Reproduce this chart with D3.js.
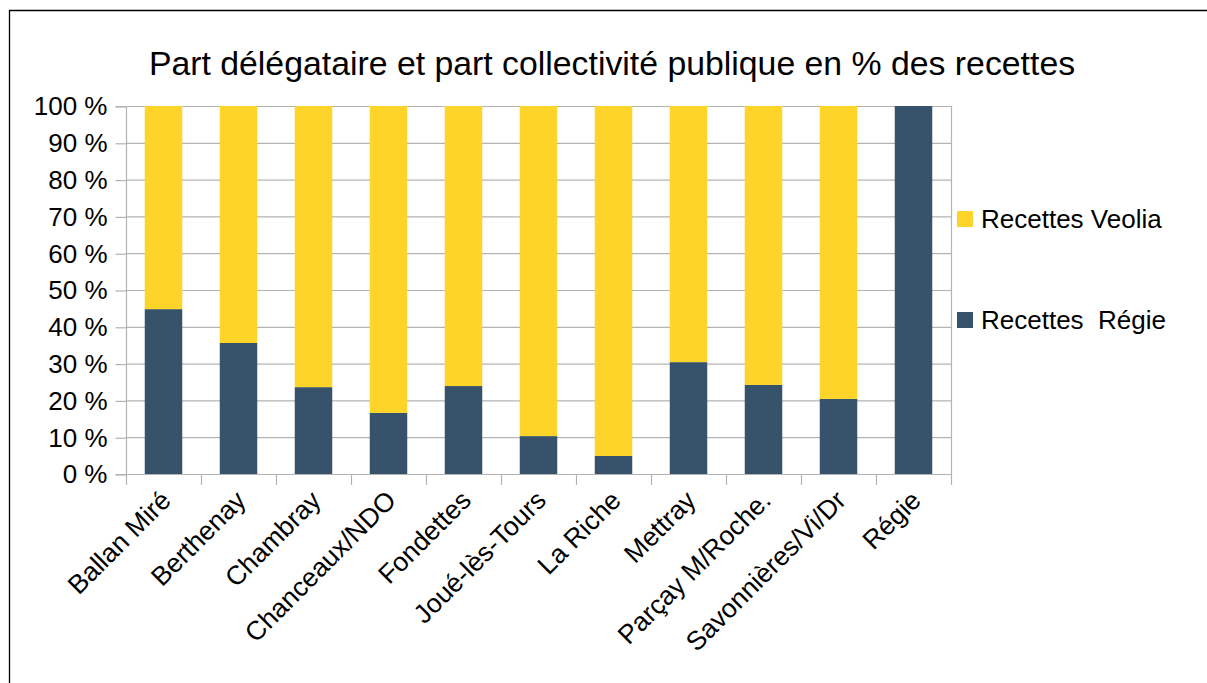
<!DOCTYPE html>
<html><head><meta charset="utf-8">
<script src="https://cdn.jsdelivr.net/npm/d3@7"></script>
<style>html,body{margin:0;padding:0;background:#fff}svg{display:block}text{font-family:"Liberation Sans",Arial,sans-serif;fill:#000}</style>
</head><body>
<svg id="c" width="1207" height="683"></svg>
<script>
const categories = ["Ballan Miré","Berthenay","Chambray","Chanceaux/NDO","Fondettes","Joué-lès-Tours","La Riche","Mettray","Parçay M/Roche.","Savonnières/Vi/Dr","Régie"];
const regie = [44.8, 35.6, 23.6, 16.6, 23.9, 10.3, 4.9, 30.4, 24.2, 20.4, 100];
const veolia = regie.map(v => 100 - v);
const seriesNames = ["Recettes  Régie", "Recettes Veolia"];
const yTicks = [0,10,20,30,40,50,60,70,80,90,100];
const title = "Part délégataire et part collectivité publique en % des recettes";

const colors = {regie:"#36536b", veolia:"#fdd427"};
const svg = d3.select("#c");
const L=126, R=951, T=106, B=474;

// outer border
svg.append("path").attr("d","M9.5,683 V10.5 H1207").attr("fill","none").attr("stroke","#000").attr("stroke-width",1.3);

const x = d3.scaleBand().domain(categories).range([L,R]).paddingInner(0.5).paddingOuter(0.25);
const y = d3.scaleLinear().domain([0,100]).range([B,T]);

// gridlines
svg.append("g").selectAll("line").data(yTicks).join("line")
  .attr("x1",L).attr("x2",R).attr("y1",d=>y(d)+0.5).attr("y2",d=>y(d)+0.5)
  .attr("stroke","#b3b3b3").attr("stroke-width",1.2);
// right border of plot
svg.append("line").attr("x1",R+0.5).attr("x2",R+0.5).attr("y1",T).attr("y2",B).attr("stroke","#b3b3b3").attr("stroke-width",1.2);

// bars
const data = categories.map((c,i)=>({c, regie:regie[i], veolia:veolia[i]}));
const stack = d3.stack().keys(["regie","veolia"])(data);
svg.append("g").selectAll("g").data(stack).join("g").attr("fill",d=>colors[d.key])
  .selectAll("rect").data(d=>d).join("rect")
  .attr("x",d=>x(d.data.c)).attr("width",x.bandwidth())
  .attr("y",d=>y(d[1])).attr("height",d=>y(d[0])-y(d[1]));

// y axis
const yAxis = d3.axisLeft(y).tickValues(yTicks).tickFormat(d=>d+" %").tickSize(11).tickPadding(8);
const ga = svg.append("g").attr("transform",`translate(${L+0.5},0.5)`).call(yAxis);
ga.select(".domain").attr("stroke","#b3b3b3").attr("stroke-width",1.2).attr("d",`M-11,${T}H0V${B}H-11`);
ga.selectAll(".tick line").attr("stroke","#b3b3b3").attr("stroke-width",1.2);
ga.selectAll(".tick text").attr("font-size",26).attr("fill","#000").attr("font-family","Liberation Sans");

// x axis line and ticks at category boundaries
const bounds = d3.range(categories.length+1).map(i=>L + i*x.step());
svg.append("line").attr("x1",L).attr("x2",R+1).attr("y1",B+0.5).attr("y2",B+0.5).attr("stroke","#b3b3b3").attr("stroke-width",1.2);
svg.append("g").selectAll("line").data(bounds).join("line")
  .attr("x1",d=>d+0.5).attr("x2",d=>d+0.5).attr("y1",B).attr("y2",B+11)
  .attr("stroke","#b3b3b3").attr("stroke-width",1.2);

// x labels
svg.append("g").selectAll("text").data(categories).join("text")
  .attr("transform",d=>`translate(${x(d)+x.bandwidth()/2+9},${B+28}) rotate(-45)`)
  .attr("text-anchor","end").attr("font-size",26.5).text(d=>d);

// title
svg.append("text").attr("x",612).attr("y",75).attr("text-anchor","middle").attr("font-size",33.8).text(title);

// legend
const leg = [{n:seriesNames[1],c:colors.veolia,y:219},{n:seriesNames[0],c:colors.regie,y:320}];
const lg = svg.append("g").selectAll("g").data(leg).join("g");
lg.append("rect").attr("x",957).attr("y",d=>d.y-8).attr("width",16).attr("height",16).attr("fill",d=>d.c);
lg.append("text").attr("x",981).attr("y",d=>d.y).attr("dy","0.35em").attr("font-size",26).style("white-space","pre").text(d=>d.n);
</script>
</body></html>
